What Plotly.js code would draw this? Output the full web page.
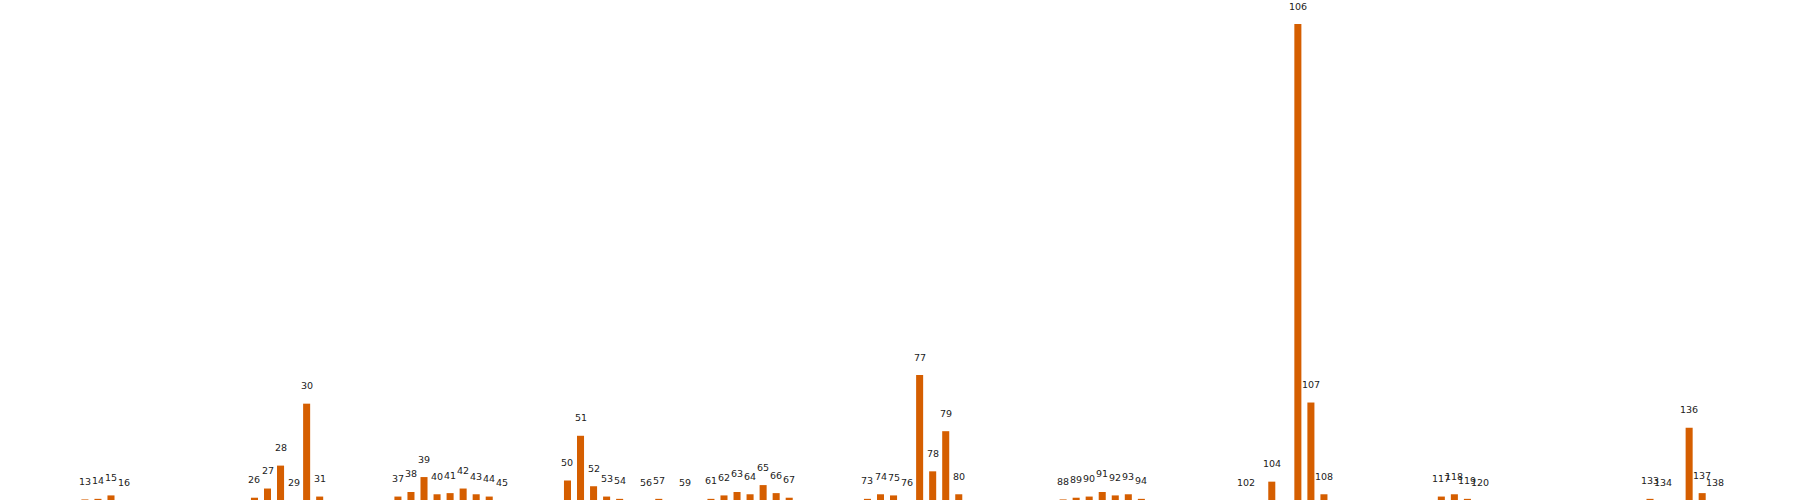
<!DOCTYPE html>
<html>
<head>
<script src="https://cdn.plot.ly/plotly-3.0.1.min.js"></script>
<style>body{margin:0}#chart{width:1800px;height:500px}</style>
</head>
<body>
<div id="chart"></div>
<script>
// bar index and height
var idx = [13,14,15,16,26,27,28,29,30,31,37,38,39,40,41,42,43,44,45,50,51,52,53,54,56,57,59,61,62,63,64,65,66,67,73,74,75,76,77,78,79,80,88,89,90,91,92,93,94,102,104,106,107,108,117,118,119,120,133,134,136,137,138];
var vals = [0.5,1,4,0,2,10,30,0,84,3,3,7,20,5,6,10,5,3,0,17,56,12,3,1,0,1,0,1,4,7,5,13,6,2,1,5,4,0,109,25,60,5,0.5,2,3,7,4,5,1,0,16,415,85,5,3,5,1,0,1,0,63,6,0];
var labels = idx.map(String);

var trace = {
  x: idx, y: vals, type: 'bar', width: 0.54,
  marker: {color: 'rgb(213,94,0)'},
  hoverinfo: 'none'
};

var annotations = idx.map(function(v, i){
  return {x: v, y: vals[i], text: labels[i], showarrow: false, yshift: 18,
          font: {family: 'DejaVu Sans', size: 9.5, color: '#222'}};
});

var layout = {
  width: 1800, height: 500,
  margin: {l: 0, r: 0, t: 0, b: 0},
  paper_bgcolor: 'white', plot_bgcolor: 'white',
  showlegend: false,
  xaxis: {range: [6.49, 144.5], visible: false},
  yaxis: {range: [0, 436], visible: false},
  annotations: annotations
};

Plotly.newPlot('chart', [trace], layout, {staticPlot: true});
</script>
</body>
</html>
